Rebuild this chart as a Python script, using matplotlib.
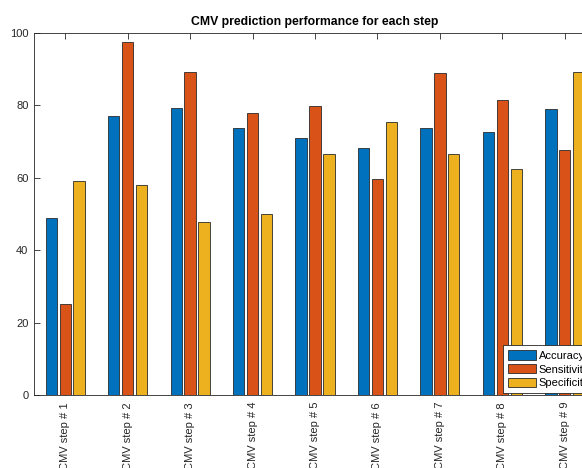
import matplotlib
matplotlib.use("Agg")
import matplotlib.pyplot as plt
import numpy as np

plt.rcParams['font.family'] = ['Liberation Sans', 'DejaVu Sans']

categories = ["CMV step # 1", "CMV step # 2", "CMV step # 3", "CMV step # 4",
              "CMV step # 5", "CMV step # 6", "CMV step # 7", "CMV step # 8",
              "CMV step # 9"]
accuracy = [48.8, 77.0, 79.3, 73.8, 71.0, 68.3, 73.7, 72.7, 79.1]
sensitivity = [25.1, 97.6, 89.3, 77.9, 79.9, 59.6, 88.9, 81.5, 67.8]
specificity = [59.0, 57.9, 47.7, 50.1, 66.7, 75.4, 66.6, 62.3, 89.1]
series_names = ["Accuracy", "Sensitivity", "Specificity"]
colors = ["#0072BD", "#D95319", "#EDB120"]
yticks = [0, 20, 40, 60, 80, 100]

fig = plt.figure(figsize=(5.82, 4.68), dpi=100)
ax = fig.add_axes([34/582, (468-395)/468, 562/582, 362/468])

x = np.arange(1, len(categories) + 1)
offset = 0.223
width = 0.182
for i, (vals, name, c) in enumerate(zip([accuracy, sensitivity, specificity], series_names, colors)):
    ax.bar(x + (i - 1) * offset, vals, width=width, color=c, edgecolor="#2a2a2a",
           linewidth=0.6, label=name, zorder=2)

ax.set_xlim(0.5, 9.5)
ax.set_ylim(0, 100)
ax.set_yticks(yticks)
ax.set_yticklabels([str(v) for v in yticks])
ax.set_xticks(x)
ax.set_xticklabels(categories, rotation=90, va='top', ha='center')

ax.tick_params(axis='both', direction='in', length=4, width=0.6, colors='#262626',
               labelsize=8, top=True, right=True)
ax.tick_params(axis='x', pad=5)
ax.tick_params(axis='y', pad=4)
for s in ax.spines.values():
    s.set_color('#262626')
    s.set_linewidth(0.6)

ax.set_title("CMV prediction performance for each step", fontsize=8.8,
             fontweight='bold', pad=6, color='black')

leg = ax.legend(loc='lower right', bbox_to_anchor=(1.0, 0.0), fontsize=8,
                handlelength=2.5, handleheight=0.9, handletextpad=0.3,
                labelspacing=0.3, borderpad=0.45, borderaxespad=0.15,
                fancybox=False, framealpha=1, edgecolor='#262626')
leg.get_frame().set_linewidth(0.6)
leg.set_zorder(5)

fig.savefig("out.png", dpi=100)
